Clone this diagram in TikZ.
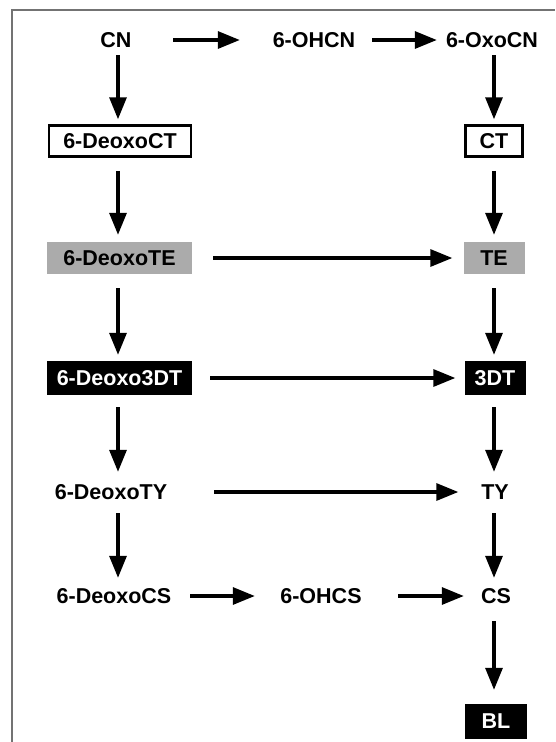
\documentclass[tikz,border=0pt]{standalone}
\usepackage{fontspec}
\setmainfont{Liberation Sans}
\usetikzlibrary{arrows.meta}
\begin{document}
\begin{tikzpicture}[x=1pt,y=-1pt,
  every node/.style={font=\fontsize{21.5}{24}\selectfont\bfseries, inner sep=0pt},
  lbl/.style={minimum height=30pt},
  wbox/.style={draw=black, line width=2.5pt, fill=white, minimum height=31pt},
  gbox/.style={fill=black!33, minimum height=32pt},
  kbox/.style={fill=black, text=white, minimum height=34pt},
  arr/.style={-{Triangle[length=22pt,width=17pt]}, line width=3.2pt},
  frame/.style={draw=black!55, line width=2.5pt}]
\useasboundingbox (0,0) rectangle (555,742);
\fill[white] (0,0) rectangle (555,742);
\draw[frame] (12,742) -- (12,10) -- (555,10);

\coordinate (lc) at (118,0);
\coordinate (rc) at (494,0);

\node[lbl, minimum width=114pt] (CN) at (116,40) {CN};
\node[lbl, minimum width=116pt] (OHCN) at (314,40) {6-OHCN};
\node[lbl, minimum width=110pt] (OxoCN) at (492,40) {6-OxoCN};
\node[wbox, minimum width=142pt] (DCT) at (120,141) {6-DeoxoCT};
\node[wbox, minimum width=57pt] (CT) at (494,141) {CT};
\node[gbox, minimum width=145pt] (DTE) at (119.5,258) {6-DeoxoTE};
\node[gbox, minimum width=61pt] (TE) at (494,258) {TE};
\node[kbox, minimum width=145pt] (D3DT) at (119.5,378) {6-Deoxo3DT};
\node[kbox, minimum width=61pt] (T3DT) at (495,378) {3DT};
\node[lbl, minimum width=120pt, minimum height=40pt] (DTY) at (111,492) {6-DeoxoTY};
\node[lbl, minimum width=40pt, minimum height=40pt] (TY) at (495,492) {TY};
\node[lbl, minimum width=124pt] (DCS) at (114,596) {6-DeoxoCS};
\node[lbl, minimum width=90pt] (OHCS) at (321,596) {6-OHCS};
\node[lbl, minimum width=40pt] (CS) at (496,596) {CS};
\node[kbox, minimum width=62pt, minimum height=35pt] (BL) at (496,721.5) {BL};

% left column
\draw[arr, shorten >=5pt] (CN.south -| lc) -- (DCT.north -| lc);
\draw[arr, shorten <=13pt, shorten >=7pt] (DCT.south -| lc) -- (DTE.north -| lc);
\draw[arr, shorten <=14pt, shorten >=6pt] (DTE.south -| lc) -- (D3DT.north -| lc);
\draw[arr, shorten <=12pt] (D3DT.south -| lc) -- (DTY.north -| lc);
\draw[arr, shorten <=1pt, shorten >=3pt] (DTY.south -| lc) -- (DCS.north -| lc);
% right column
\draw[arr, shorten >=5pt] (OxoCN.south -| rc) -- (CT.north -| rc);
\draw[arr, shorten <=13pt, shorten >=7pt] (CT.south -| rc) -- (TE.north -| rc);
\draw[arr, shorten <=14pt, shorten >=6pt] (TE.south -| rc) -- (T3DT.north -| rc);
\draw[arr, shorten <=12pt] (T3DT.south -| rc) -- (TY.north -| rc);
\draw[arr, shorten <=1pt, shorten >=3pt] (TY.south -| rc) -- (CS.north -| rc);
\draw[arr, shorten <=10pt, shorten >=14pt] (CS.south -| rc) -- (BL.north -| rc);
% horizontal
\draw[arr, shorten >=16pt] (CN) -- (OHCN);
\draw[arr] (OHCN) -- (OxoCN);
\draw[arr, shorten <=21pt, shorten >=11pt] (DTE) -- (TE);
\draw[arr, shorten <=18pt, shorten >=9pt] (D3DT) -- (T3DT);
\draw[arr, shorten <=43pt, shorten >=16.5pt] (DTY) -- (TY);
\draw[arr, shorten <=14pt, shorten >=21pt] (DCS) -- (OHCS);
\draw[arr, shorten <=32pt, shorten >=12pt] (OHCS) -- (CS);
\end{tikzpicture}
\end{document}
